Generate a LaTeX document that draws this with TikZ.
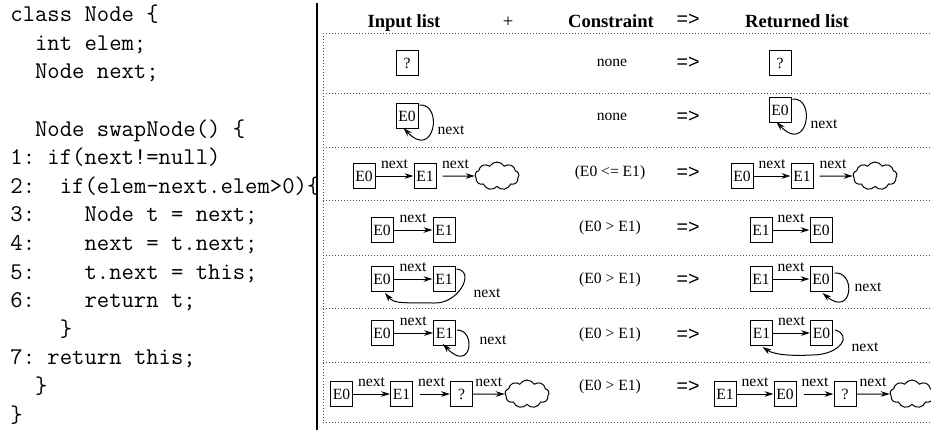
\documentclass[tikz,border=0pt]{standalone}
\usepackage{fontspec}
\usetikzlibrary{arrows.meta,shapes.symbols,calc,positioning}
\newfontfamily\timesfont{Liberation Serif}
\newfontfamily\arialfont{Liberation Sans}

\tikzset{
  elem/.style={draw, line width=0.5pt, inner sep=0.5pt, minimum width=11pt,
    minimum height=12.5pt, font=\timesfont\fontsize{7.8}{9}\selectfont},
  link/.style={line width=0.5pt, -{Stealth[open, length=4.5pt, width=2.8pt]}},
  nxt/.style={font=\timesfont\fontsize{7.8}{9}\selectfont, inner sep=1pt},
  tailcloud/.style={draw, cloud, cloud puffs=9, cloud puff arc=120, aspect=1.6,
    minimum width=22pt, minimum height=14pt, inner sep=0pt, line width=0.5pt},
  cond/.style={font=\timesfont\fontsize{7.8}{9}\selectfont},
  yields/.style={font=\arialfont\fontsize{9.8}{11}\selectfont},
  colhead/.style={font=\timesfont\bfseries\fontsize{9.3}{11}\selectfont},
  rowline/.style={line width=0.3pt, black!70, dash pattern=on 0.3pt off 1.2pt}
}

\begin{document}
\begin{tikzpicture}[x=0.5pt, y=-0.5pt]
\useasboundingbox (0,0) rectangle (931,435);

% the method (base = last line)
\node[anchor=base west, align=left, inner sep=0pt,
  font=\ttfamily\fontsize{12}{14.3}\selectfont\frenchspacing] (code) at (10,422) {%
class Node \{\\
\ \ int elem;\\
\ \ Node next;\\
\mbox{}\\
\ \ Node swapNode() \{\\
1: if(next!=null)\\
2:\ \ if(elem-next.elem>0)\{\\
3:\ \ \ \ Node t = next;\\
4:\ \ \ \ next = t.next;\\
5:\ \ \ \ t.next = this;\\
6:\ \ \ \ return t;\\
\ \ \ \ \}\\
7: return this;\\
\ \ \}\\
\}};

\draw[line width=0.8pt] (317,3) -- (317,430);

% table frame
\draw[rowline] (323,33) -- (323,422);
\foreach \y in {33,93,147,200,255,308,362,422}
  \draw[rowline] (323,\y) -- (931,\y);

% header
\node[colhead, anchor=base] (hin) at (404,27) {Input list};
\node[colhead, anchor=base, font=\timesfont\fontsize{9.3}{11}\selectfont] (hplus) at (508,27) {+};
\node[colhead, anchor=base] (hcond) at (611,27) {Constraint};
\node[yields] (harr) at (688,20) {=>};
\node[colhead, anchor=base] (hout) at (797,27) {Returned list};

% row 1
\node[elem] (in1) at (407,63) {?};
\node[cond] (c1) at (612,63) {none};
\node[yields] (y1) at (688,63) {=>};
\node[elem] (out1) at (780,63) {?};

% row 2
\node[elem] (in2) at (407,116) {E0};
\draw[link] ($(in2.north east)+(1,2)$) .. controls +(24,-2) and +(31,33) .. ($(in2.south west)+(8,-1)$);
\node[nxt] (in2n) at ($(in2)+(44,14)$) {next};
\node[cond] (c2) at (612,117) {none};
\node[yields] (y2) at (688,117) {=>};
\node[elem] (out2) at (780,110) {E0};
\draw[link] ($(out2.north east)+(1,2)$) .. controls +(24,-2) and +(31,33) .. ($(out2.south west)+(8,-1)$);
\node[nxt] (out2n) at ($(out2)+(44,14)$) {next};

% row 3
\node[elem] (in3a) at (364,176) {E0};
\node[elem] (in3b) at (425,176) {E1};
\node[tailcloud] (in3c) at (497,176) {};
\draw[link] (in3a) -- node[nxt, above=2.5pt] {next} (in3b);
\draw[link, shorten <=3pt] (in3b) -- node[nxt, above=2.5pt] {next} (in3c);
\node[cond] (c3) at (610,173) {(E0 <= E1)};
\node[yields] (y3) at (688,173) {=>};
\node[elem] (out3a) at (742,176) {E0};
\node[elem] (out3b) at (802,176) {E1};
\node[tailcloud] (out3c) at (875,176) {};
\draw[link] (out3a) -- node[nxt, above=2.5pt] {next} (out3b);
\draw[link, shorten <=3pt] (out3b) -- node[nxt, above=2.5pt] {next} (out3c);

% row 4
\node[elem] (in4a) at (382,230) {E0};
\node[elem] (in4b) at (444,230) {E1};
\draw[link] (in4a) -- node[nxt, above=2.5pt] {next} (in4b);
\node[cond] (c4) at (610,228) {(E0 > E1)};
\node[yields] (y4) at (688,228) {=>};
\node[elem] (out4a) at (761,230) {E1};
\node[elem] (out4b) at (821,230) {E0};
\draw[link] (out4a) -- node[nxt, above=2.5pt] {next} (out4b);

% row 5
\node[elem] (in5a) at (382,279) {E0};
\node[elem] (in5b) at (444,279) {E1};
\draw[link] (in5a) -- node[nxt, above=2.5pt] {next} (in5b);
\draw[link] ($(in5b.north east)+(1,3)$) .. controls +(20,2) and +(25,2) .. (433,303)
  .. controls +(-25,-1) and +(10,12) .. ($(in5a.south)+(3,1)$);
\node[nxt] (in5n) at (487,293) {next};
\node[cond] (c5) at (610,280) {(E0 > E1)};
\node[yields] (y5) at (688,280) {=>};
\node[elem] (out5a) at (761,279) {E1};
\node[elem] (out5b) at (821,279) {E0};
\draw[link] (out5a) -- node[nxt, above=2.5pt] {next} (out5b);
\draw[link] ($(out5b.north east)+(2,7)$) .. controls +(22,-2) and +(30,25) .. ($(out5b.south west)+(13,1)$);
\node[nxt] (out5n) at (868,287) {next};

% row 6
\node[elem] (in6a) at (382,333) {E0};
\node[elem] (in6b) at (444.5,333) {E1};
\draw[link] (in6a) -- node[nxt, above=2.5pt] {next} (in6b);
\draw[link] ($(in6b.north east)+(1,10)$) .. controls +(20,0) and +(28,30) .. ($(in6b.south west)+(10,-2)$);
\node[nxt] (in6n) at (493,340) {next};
\node[cond] (c6) at (610,335) {(E0 > E1)};
\node[yields] (y6) at (688,335) {=>};
\node[elem] (out6a) at (761.5,333) {E1};
\node[elem] (out6b) at (821.5,333) {E0};
\draw[link] (out6a) -- node[nxt, above=2.5pt] {next} (out6b);
\draw[link] ($(out6b.north east)+(2,10)$) .. controls +(18,5) and +(28,0) .. (812,355)
  .. controls +(-20,1) and +(12,8) .. ($(out6a.south)+(1,1)$);
\node[nxt] (out6n) at (865,347) {next};

% row 7
\node[elem] (in7a) at (341.5,394) {E0};
\node[elem] (in7b) at (401.5,394) {E1};
\node[elem] (in7c) at (461.5,394) {?};
\node[tailcloud] (in7d) at (527,394) {};
\draw[link] (in7a) -- node[nxt, above=2.5pt] {next} (in7b);
\draw[link, shorten <=3.5pt] (in7b) -- node[nxt, above=2.5pt] {next} (in7c);
\draw[link] (in7c) -- node[nxt, above=2.5pt] {next} (in7d);
\node[cond] (c7) at (610,387) {(E0 > E1)};
\node[yields] (y7) at (688,387) {=>};
\node[elem] (out7a) at (725,394) {E1};
\node[elem] (out7b) at (785,394) {E0};
\node[elem] (out7c) at (845,394) {?};
\node[tailcloud] (out7d) at (912,394) {};
\draw[link] (out7a) -- node[nxt, above=2.5pt] {next} (out7b);
\draw[link, shorten <=3.5pt] (out7b) -- node[nxt, above=2.5pt] {next} (out7c);
\draw[link] (out7c) -- node[nxt, above=2.5pt] {next} (out7d);
\end{tikzpicture}
\end{document}
